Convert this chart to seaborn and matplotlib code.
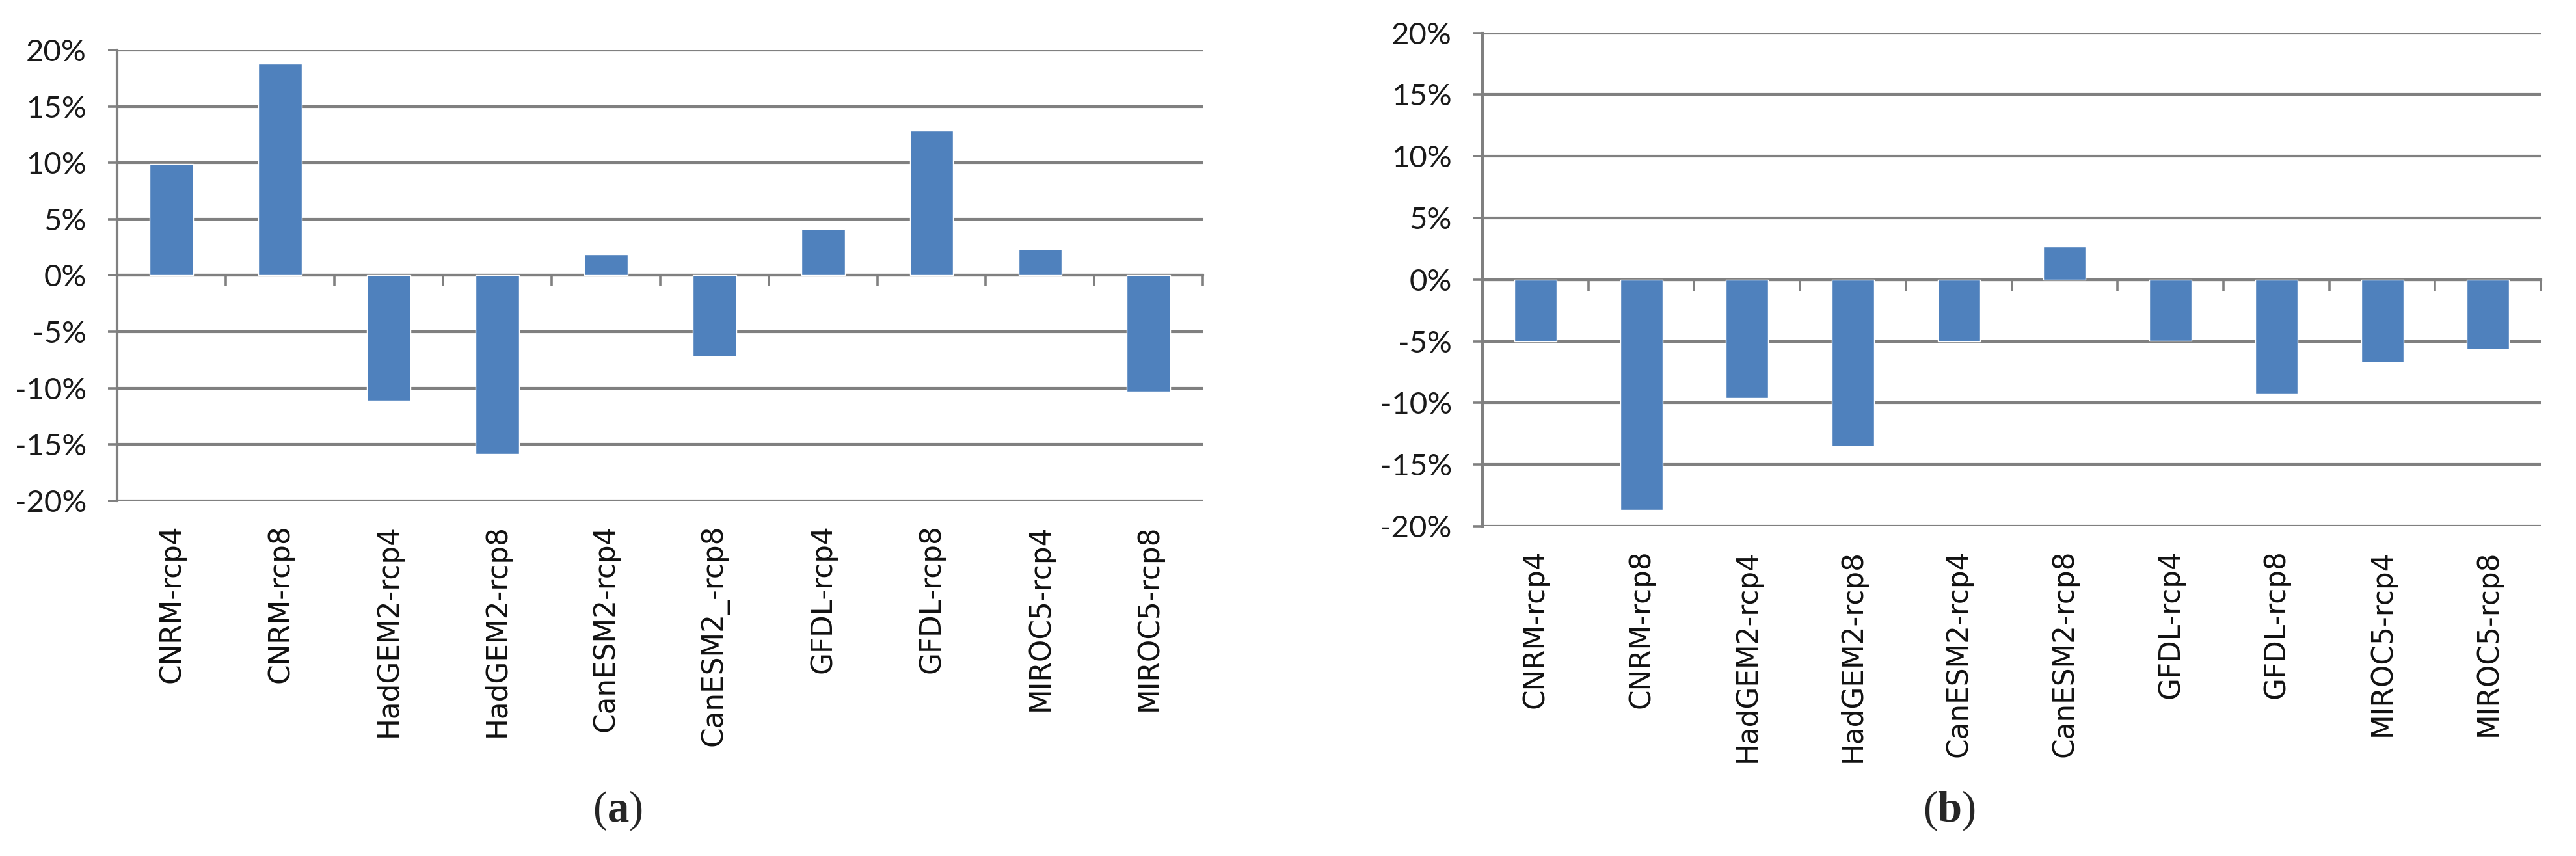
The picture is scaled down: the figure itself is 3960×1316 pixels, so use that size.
import numpy as np
import pandas as pd
import matplotlib
matplotlib.use("Agg")
import matplotlib.pyplot as plt
import seaborn as sns

# categories and values (% change)
models_a = ['CNRM-rcp4', 'CNRM-rcp8', 'HadGEM2-rcp4', 'HadGEM2-rcp8', 'CanESM2-rcp4',
            'CanESM2_-rcp8', 'GFDL-rcp4', 'GFDL-rcp8', 'MIROC5-rcp4', 'MIROC5-rcp8']
models_b = ['CNRM-rcp4', 'CNRM-rcp8', 'HadGEM2-rcp4', 'HadGEM2-rcp8', 'CanESM2-rcp4',
            'CanESM2-rcp8', 'GFDL-rcp4', 'GFDL-rcp8', 'MIROC5-rcp4', 'MIROC5-rcp8']
change_a = [9.9, 18.8, -11.1, -15.85, 1.85, -7.2, 4.15, 12.85, 2.35, -10.3]
change_b = [-5.05, -18.7, -9.6, -13.5, -5.0, 2.7, -4.95, -9.25, -6.7, -5.65]
yticks = [-20, -15, -10, -5, 0, 5, 10, 15, 20]
captions = ['a', 'b']

bar_color = '#4F81BD'
grid_color = '#808080'

sns.set_style('white')
plt.rcParams['font.family'] = ['DejaVu Sans']
plt.rcParams['mathtext.fontset'] = 'custom'
plt.rcParams['mathtext.bf'] = 'Liberation Serif:bold'
plt.rcParams['mathtext.rm'] = 'Liberation Serif'

fig = plt.figure(figsize=(39.6, 13.16), dpi=100)
ax_a = fig.add_axes([0.0455, 0.4149, 0.4215, 0.5266])
ax_b = fig.add_axes([0.5755, 0.3853, 0.4109, 0.5763])


def draw_panel(ax, models, values):
    df = pd.DataFrame({'model': models, 'change': values})
    sns.barplot(data=df, x='model', y='change', color=bar_color, width=0.4,
                saturation=1, ax=ax, zorder=3)
    ax.set_xlim(-0.5, len(models) - 0.5)
    ax.set_ylim(yticks[0], yticks[-1])
    ax.set_xlabel('')
    ax.set_ylabel('')

    # y axis: gridlines + percent labels
    ax.set_yticks(yticks)
    ax.set_yticklabels([f'{v}%' for v in yticks], fontfamily='Lato', fontsize=34,
                       color='#1a1a1a')
    ax.tick_params(axis='y', length=10, width=2.6, color=grid_color, pad=24, left=True)
    ax.yaxis.grid(True, color=grid_color, linewidth=3.0, zorder=1)
    ax.set_axisbelow(True)

    for s in ['top', 'right']:
        ax.spines[s].set_visible(False)
    ax.spines['left'].set_color(grid_color)
    ax.spines['left'].set_linewidth(3.0)

    # category axis crossing at zero, tick marks between categories
    ax.spines['bottom'].set_position(('data', 0))
    ax.spines['bottom'].set_color(grid_color)
    ax.spines['bottom'].set_linewidth(3.0)
    ax.set_xticks(np.arange(len(models)))
    ax.set_xticklabels([])
    ax.tick_params(axis='x', which='major', length=0)
    ax.set_xticks(np.arange(len(models)) + 0.5, minor=True)
    ax.tick_params(axis='x', which='minor', length=12, width=2.6, color=grid_color,
                   direction='out', bottom=True)

    # category labels at the bottom of the plot area
    sec = ax.secondary_xaxis('bottom')
    sec.set_xticks(np.arange(len(models)))
    sec.set_xticklabels(models, rotation=90, fontsize=31.5, va='top', ha='center',
                        color='#111111')
    sec.tick_params(length=0, pad=26)
    sec.spines['bottom'].set_visible(False)


draw_panel(ax_a, models_a, change_a)
draw_panel(ax_b, models_b, change_b)

fig.text(0.2398, 0.053, r'($\mathbf{' + captions[0] + r'}$)', fontsize=48,
         fontfamily='Liberation Serif', ha='center', va='center')
fig.text(0.7566, 0.053, r'($\mathbf{' + captions[1] + r'}$)', fontsize=48,
         fontfamily='Liberation Serif', ha='center', va='center')

fig.savefig('out.png', dpi=100, facecolor='white')
